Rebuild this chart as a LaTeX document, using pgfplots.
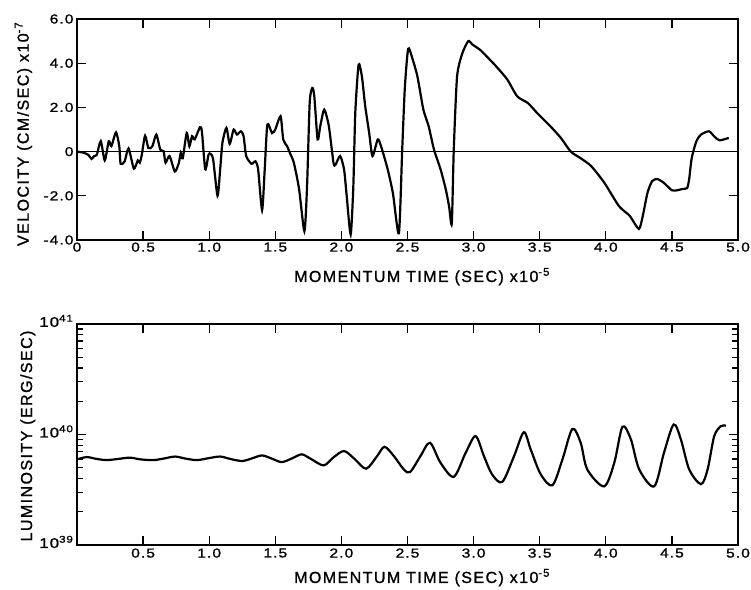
\documentclass[border=0pt]{standalone}
\usepackage{fontspec}
\usepackage{pgfplots}
\pgfplotsset{compat=1.18}
\newfontfamily\lblfont{Liberation Sans}[LetterSpace=9, FakeBold=1.2]
\newfontfamily\tickfont{Liberation Sans}[FakeStretch=1.2, LetterSpace=8, FakeBold=1.2]
\setmainfont{Liberation Sans}
\pgfplotsset{
  oldstyle/.style={
    scale only axis, width=661pt, height=221pt,
    axis line style={line width=1.6pt},
    every tick/.style={line width=1.3pt, black},
    major tick length=9pt, minor tick length=6pt,
    tick align=inside, xtick pos=both, ytick pos=both,
    xticklabel pos=lower, yticklabel pos=left,
    xmin=0, xmax=5,
    ticklabel style={font=\fontsize{13}{15}\selectfont\tickfont},
    label style={font=\fontsize{16}{18}\selectfont\lblfont},
    /pgf/number format/assume math mode=true,
  }
}
\begin{document}
\begin{tikzpicture}
\path[use as bounding box] (0pt,0pt) rectangle (751pt,-589pt);
\begin{axis}[oldstyle, at={(77pt,-19pt)}, anchor=north west,
  ymin=-4, ymax=6,
  xtick={0,0.5,1,1.5,2,2.5,3,3.5,4,4.5,5},
  xticklabels={0,0.5,1.0,1.5,2.0,2.5,3.0,3.5,4.0,4.5,5.0},
  ytick={-4,-2,0,2,4,6},
  yticklabels={-4.0,-2.0,0,2.0,4.0,6.0},
  xticklabel style={yshift=1pt},
  xlabel={MOMENTUM TIME (SEC) x10\textsuperscript{-5}},
  ylabel={VELOCITY (CM/SEC) x10\textsuperscript{-7}},
  xlabel style={at={(axis description cs:0.522,-0.19)}, anchor=base},
  ylabel style={at={(axis description cs:-0.073,0.48)}, anchor=base},
]
\addplot[black, line width=1.5pt] coordinates {(0,0) (5,0)};
\addplot[black, line width=2.2pt, smooth, tension=0.4] coordinates {
(0,0) (0.05,-0.05) (0.086,-0.15) (0.11,-0.33) (0.13,-0.2) (0.15,-0.14)
(0.18,0.47) (0.21,-0.4) (0.24,0.47) (0.26,0.25) (0.295,0.87) (0.32,0.24)
(0.33,-0.55) (0.36,-0.45) (0.39,0.14) (0.43,-0.77) (0.46,-0.4) (0.475,-0.5)
(0.49,-0.15) (0.515,0.72) (0.54,0.16) (0.57,0.24) (0.60,0.77) (0.63,0.09)
(0.655,0.02) (0.67,-0.5) (0.70,-0.2) (0.74,-0.9) (0.77,-0.52) (0.785,-0.06)
(0.80,-0.3) (0.83,0.85) (0.85,0.24) (0.87,0.7) (0.89,0.55) (0.93,1.1)
(0.945,0.9) (0.97,-0.8) (0.995,-0.14) (1.01,-0.1) (1.03,-0.36) (1.063,-2.0)
(1.083,-0.8) (1.10,0.4) (1.13,1.07) (1.155,0.35) (1.185,1.0) (1.21,0.77)
(1.24,0.92) (1.26,0.7) (1.28,-0.2) (1.32,-0.55) (1.35,-0.44) (1.37,-0.8)
(1.40,-2.65) (1.42,-0.8) (1.44,1.22) (1.475,0.84) (1.50,1.0) (1.54,1.6)
(1.56,0.55) (1.59,0.24) (1.61,-0.06) (1.64,-0.5) (1.68,-1.7) (1.72,-3.6)
(1.74,-1.6) (1.76,2.2) (1.78,2.88) (1.795,2.5) (1.82,0.55) (1.84,1.15)
(1.87,1.9) (1.905,1.15) (1.94,-0.5) (1.955,-0.6) (1.99,-0.2) (2.02,-0.8)
(2.04,-2.0) (2.07,-3.75) (2.09,-1.6) (2.105,1.75) (2.13,3.93) (2.155,3.4)
(2.18,2.06) (2.21,0.85) (2.235,-0.2) (2.275,0.55) (2.30,0.24) (2.35,-0.8)
(2.39,-1.9) (2.435,-3.7) (2.46,0.1) (2.48,2.9) (2.505,4.65) (2.535,4.25)
(2.575,3.4) (2.62,1.9) (2.66,1.15) (2.70,0.1) (2.75,-0.8) (2.79,-1.72)
(2.815,-2.5) (2.835,-3.25) (2.85,0.1) (2.875,3.4) (2.915,4.45) (2.96,5.0)
(2.99,4.85) (3.05,4.6) (3.10,4.3) (3.17,3.86) (3.255,3.26) (3.33,2.5)
(3.41,2.2) (3.48,1.75) (3.58,1.15) (3.66,0.62) (3.735,0.0) (3.81,-0.3)
(3.89,-0.66) (3.99,-1.42) (4.10,-2.47) (4.18,-2.9) (4.25,-3.5) (4.28,-2.9)
(4.315,-1.87) (4.35,-1.34) (4.39,-1.24) (4.44,-1.42) (4.50,-1.75) (4.54,-1.75)
(4.58,-1.69) (4.615,-1.65) (4.63,-1.27) (4.65,-0.29) (4.685,0.47) (4.72,0.77)
(4.78,0.92) (4.82,0.69) (4.86,0.51) (4.93,0.62)
};
\end{axis}
\begin{axis}[oldstyle, at={(77pt,-324pt)}, anchor=north west,
  ymode=log, ymin=1e39, ymax=1e41,
  xtick={0.5,1,1.5,2,2.5,3,3.5,4,4.5,5},
  xticklabels={0.5,1.0,1.5,2.0,2.5,3.0,3.5,4.0,4.5,5.0},
  ytick={1e39,1e40,1e41},
  yticklabels={10\textsuperscript{39},10\textsuperscript{40},10\textsuperscript{41}},
  yticklabel style={font=\fontsize{14}{16}\selectfont\tickfont, anchor=east, yshift=3pt},
  xlabel={MOMENTUM TIME (SEC) x10\textsuperscript{-5}},
  ylabel={LUMINOSITY (ERG/SEC)},
  xlabel style={at={(axis description cs:0.522,-0.172)}, anchor=base},
  ylabel style={at={(axis description cs:-0.068,0.493)}, anchor=base},
]
\addplot[black, line width=2.2pt, smooth, tension=0.5] coordinates {
(0,5.94e39) (0.073,6.24e39) (0.15,6.0e39) (0.225,5.86e39) (0.31,6.0e39)
(0.40,6.17e39) (0.48,5.95e39) (0.578,5.86e39) (0.655,6.05e39) (0.742,6.31e39)
(0.82,6.05e39) (0.907,5.86e39) (0.995,6.1e39) (1.083,6.31e39) (1.16,6.0e39)
(1.248,5.75e39) (1.32,6.05e39) (1.40,6.46e39) (1.48,6.0e39) (1.55,5.62e39)
(1.63,6.1e39) (1.70,6.61e39) (1.77,6.0e39) (1.866,5.25e39) (1.94,6.2e39)
(2.02,7.08e39) (2.10,6.0e39) (2.187,4.90e39) (2.27,6.37e39) (2.326,7.73e39)
(2.397,6.37e39) (2.472,4.82e39) (2.52,4.57e39) (2.598,6.37e39) (2.67,8.41e39)
(2.75,5.54e39) (2.85,4.14e39) (2.94,6.83e39) (3.015,9.66e39) (3.078,6.37e39)
(3.14,4.35e39) (3.217,3.72e39) (3.306,6.37e39) (3.38,1.047e40) (3.432,7.31e39)
(3.508,4.35e39) (3.596,3.47e39) (3.672,5.94e39) (3.747,1.122e40) (3.81,8.41e39)
(3.86,4.82e39) (3.987,3.39e39) (4.064,5.54e39) (4.126,1.175e40) (4.19,9.01e39)
(4.253,4.82e39) (4.366,3.39e39) (4.44,6.83e39) (4.513,1.23e40) (4.568,9.01e39)
(4.631,4.82e39) (4.72,3.55e39) (4.77,4.82e39) (4.82,9.66e39) (4.871,1.19e40)
(4.909,1.20e40)
};
\end{axis}
\end{tikzpicture}
\end{document}
